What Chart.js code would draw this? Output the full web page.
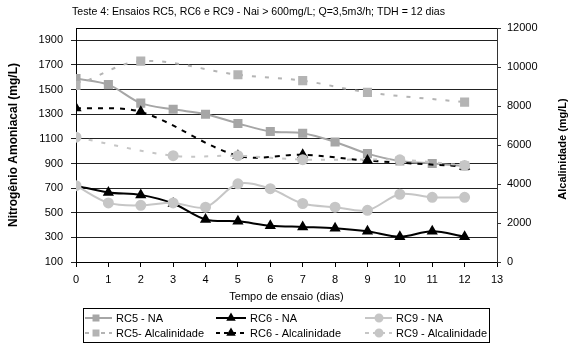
<!DOCTYPE html>
<html><head><meta charset="utf-8">
<script src="https://cdn.jsdelivr.net/npm/chart.js@4/dist/chart.umd.min.js"></script>
<style>html,body{margin:0;padding:0;background:#fff}canvas{display:block}</style>
</head><body>
<canvas id="c" width="570" height="344"></canvas>
<script>
// ---- data ----
const days = [0,1,2,3,4,5,6,7,8,9,10,11,12];
const rc5NA = [1590,1540,1390,1340,1300,1225,1160,1145,1075,980,920,900,880];
const rc6NA = [720,665,645,575,445,430,395,385,375,350,305,350,305];
const rc9NA = [720,580,560,580,545,735,695,575,545,520,650,625,625];
const alcDaysRC5 = [0,2,5,7,9,12];
const rc5Alc = [9050,10300,9600,9300,8700,8200];
const alcDaysRC6 = [0,2,5,7,9,12];
const rc6Alc = [7900,7700,5450,5500,5200,4900];
const alcDaysRC9 = [0,3,5,7,10,12];
const rc9Alc = [6400,5450,5450,5250,5240,4950];
const leftTicks = [100,300,500,700,900,1100,1300,1500,1700,1900];
const rightTicks = [0,2000,4000,6000,8000,10000,12000];
const xTicks = [0,1,2,3,4,5,6,7,8,9,10,11,12,13];
const seriesNames = ['RC5 - NA','RC6 - NA','RC9 - NA','RC5- Alcalinidade','RC6 - Alcalinidade','RC9 - Alcalinidade'];
const chartTitle = 'Teste 4: Ensaios RC5, RC6 e RC9 - Nai > 600mg/L; Q=3,5m3/h; TDH = 12 dias';
const leftTitle = 'Nitrogênio Amoniacal (mg/L)';
const rightTitle = 'Alcalinidade (mg/L)';
const xTitle = 'Tempo de ensaio (dias)';

const FONT = '"Liberation Sans", Arial, sans-serif';
const C5 = '#a6a6a6', C6 = '#000000', C9 = '#c6c6c6';
const pts = (xs, ys) => xs.map((x,i)=>({x, y: ys[i]}));

function ds(label, data, color, style, axis, dash, radius){
  return {label, data, borderColor: color, backgroundColor: color,
    pointBackgroundColor: color, pointBorderColor: color,
    pointStyle: style, pointRadius: radius, borderWidth: 2, borderDash: dash,
    yAxisID: axis, tension: 0.33, fill: false};
}

const datasets = [
  ds(seriesNames[3], pts(alcDaysRC5, rc5Alc), '#b4b4b4', 'rect', 'yR', [4,9], 5),
  ds(seriesNames[5], pts(alcDaysRC9, rc9Alc), C9, 'circle', 'yR', [4,9], 4.5),
  ds(seriesNames[4], pts(alcDaysRC6, rc6Alc), C6, 'triangle', 'yR', [5,6], 4.5),
  ds(seriesNames[0], pts(days, rc5NA), C5, 'rect', 'yL', [], 5),
  ds(seriesNames[2], pts(days, rc9NA), C9, 'circle', 'yL', [], 4.5),
  ds(seriesNames[1], pts(days, rc6NA), C6, 'triangle', 'yL', [], 4.5),
];

const legendLayout = [
  {name: seriesNames[0], lx0: 85, lx1: 112, mx: 96, tx: 116, y: 318},
  {name: seriesNames[1], lx0: 216, lx1: 246, mx: 231, tx: 250, y: 318},
  {name: seriesNames[2], lx0: 365, lx1: 392, mx: 379, tx: 396, y: 318},
  {name: seriesNames[3], lx0: 85, lx1: 112, mx: 96, tx: 116, y: 333},
  {name: seriesNames[4], lx0: 216, lx1: 246, mx: 231, tx: 250, y: 333},
  {name: seriesNames[5], lx0: 365, lx1: 392, mx: 379, tx: 396, y: 333},
];

const decor = {
  id: 'decor',
  afterDraw(chart){
    const ctx = chart.ctx, a = chart.chartArea;
    ctx.save();
    // top border
    ctx.strokeStyle = '#000'; ctx.lineWidth = 1;
    ctx.beginPath(); ctx.moveTo(a.left, a.top + 0.5); ctx.lineTo(a.right, a.top + 0.5); ctx.stroke();
    // chart title
    ctx.fillStyle = '#000'; ctx.font = '11px ' + FONT;
    ctx.textAlign = 'center'; ctx.textBaseline = 'middle';
    ctx.fillText(chartTitle, 258.5, 12, 373);
    // right title
    ctx.save();
    ctx.translate(563, 149); ctx.rotate(-Math.PI/2);
    ctx.font = 'bold 11px ' + FONT;
    ctx.fillText(rightTitle, 0, 0);
    ctx.restore();
    // legend box
    ctx.strokeStyle = '#000'; ctx.lineWidth = 1;
    ctx.strokeRect(83.5, 308.5, 406, 34);
    ctx.font = '11px ' + FONT; ctx.textAlign = 'left'; ctx.textBaseline = 'middle';
    legendLayout.forEach(it => {
      const d = chart.data.datasets.find(s => s.label === it.name);
      ctx.save();
      ctx.strokeStyle = d.borderColor; ctx.lineWidth = 2;
      ctx.setLineDash(d.borderDash.length ? [4,4] : []);
      ctx.beginPath(); ctx.moveTo(it.lx0, it.y); ctx.lineTo(it.lx1, it.y); ctx.stroke();
      ctx.setLineDash([]);
      ctx.fillStyle = d.pointBackgroundColor;
      Chart.helpers.drawPoint(ctx, {pointStyle: d.pointStyle, radius: 3.5, borderWidth: 1, rotation: 0}, it.mx, it.y);
      ctx.fill();
      ctx.restore();
      ctx.fillStyle = '#000';
      ctx.fillText(it.name, it.tx, it.y + 0.5);
    });
    ctx.restore();
  }
};

const plain = v => String(v);

new Chart(document.getElementById('c'), {
  type: 'line',
  data: { datasets },
  options: {
    responsive: false, animation: false, devicePixelRatio: 1,
    layout: { padding: { top: 28, left: 0, right: 0, bottom: 0 } },
    plugins: { legend: { display: false }, title: { display: false }, tooltip: { enabled: false } },
    scales: {
      x: {
        type: 'linear', position: 'bottom', min: 0, max: 13,
        afterBuildTicks: s => { s.ticks = xTicks.map(v => ({value: v})); },
        afterFit: s => { s.height = 82; },
        grid: { drawOnChartArea: false, drawTicks: true, tickLength: 5, color: '#000' },
        border: { color: '#000', width: 1 },
        ticks: { color: '#000', font: { family: FONT, size: 11 }, padding: 6, maxRotation: 0, autoSkip: false, callback: plain },
        title: { display: true, text: xTitle, color: '#000', font: { family: FONT, size: 11 }, padding: { top: 0, bottom: 40 } }
      },
      yL: {
        type: 'linear', position: 'left', min: 100, max: 2000,
        afterBuildTicks: s => { s.ticks = leftTicks.map(v => ({value: v})); },
        afterFit: s => { s.width = 76; },
        grid: { drawOnChartArea: true, drawTicks: true, tickLength: 5, color: '#222' },
        border: { color: '#000', width: 1 },
        ticks: { color: '#000', font: { family: FONT, size: 11 }, padding: 8, callback: plain },
        title: { display: true, text: leftTitle, color: '#000', font: { family: FONT, size: 12, weight: 'bold' }, padding: { top: 6, bottom: 0 } }
      },
      yR: {
        type: 'linear', position: 'right', min: 0, max: 12000,
        afterBuildTicks: s => { s.ticks = rightTicks.map(v => ({value: v})); },
        afterFit: s => { s.width = 73; },
        grid: { drawOnChartArea: false, drawTicks: true, tickLength: 4, color: '#333' },
        border: { color: '#333', width: 1 },
        ticks: { color: '#000', font: { family: FONT, size: 11 }, padding: 6, callback: plain }
      }
    }
  },
  plugins: [decor]
});
</script>
</body></html>
